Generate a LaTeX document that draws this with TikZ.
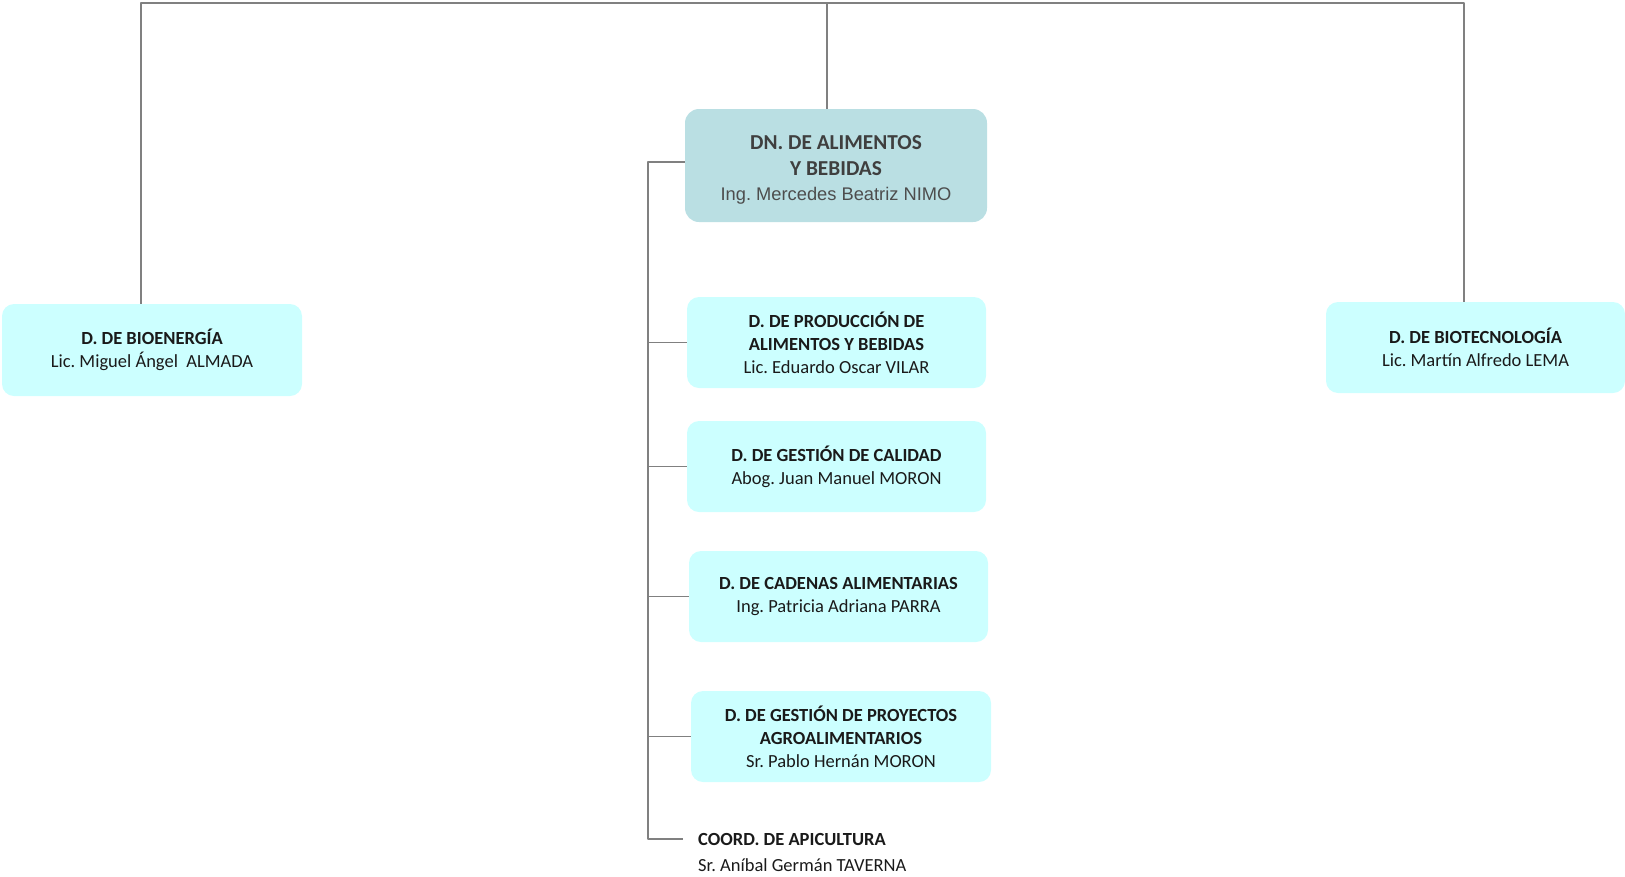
\documentclass[tikz,border=0pt]{standalone}
\usepackage{fontspec}
\setmainfont{Carlito}
\newfontfamily\arialfont{Liberation Sans}
\usetikzlibrary{positioning}
\definecolor{headfill}{HTML}{BADFE3}
\definecolor{boxfill}{HTML}{CCFFFF}
\definecolor{linegray}{HTML}{808080}
\definecolor{headtext}{HTML}{3F3F3F}
\definecolor{nametext}{HTML}{4D4D4D}
\definecolor{boxtext}{HTML}{1A1A1A}
\frenchspacing
\begin{document}
\begin{tikzpicture}[x=1pt,y=-1pt,line join=round,
	conn/.style={draw=linegray,line width=1.6pt},
	head/.style={fill=headfill,rounded corners=14pt,minimum width=302pt,minimum height=113pt,align=center,text=headtext,font=\fontsize{21.3}{25.5}\selectfont},
	unit/.style={fill=boxfill,rounded corners=12pt,minimum width=299pt,minimum height=91pt,align=center,text=boxtext,font=\fontsize{18.5}{22.8}\selectfont},
	plain/.style={anchor=west,inner xsep=15pt,inner ysep=0pt,text=boxtext,font=\fontsize{18.5}{22.8}\selectfont}]
	\useasboundingbox (0,0) rectangle (1625,876);
	\node[head] (dn) at (836,165.5) {\rule{0pt}{23pt}\textbf{DN. DE ALIMENTOS}\\ \textbf{Y BEBIDAS}\\ {\arialfont\fontsize{18.3}{22}\selectfont\color{nametext}Ing. Mercedes Beatriz NIMO}};
	\node[unit,minimum width=300pt,minimum height=92pt] (bio) at (152,350) {\textbf{D. DE BIOENERGÍA}\\ Lic. Miguel Ángel\ \ ALMADA};
	\node[unit] (biot) at (1475.5,347.5) {\textbf{D. DE BIOTECNOLOGÍA}\\ Lic. Martín Alfredo LEMA};
	\node[unit] (prod) at (836.5,342.5) {\textbf{D. DE PRODUCCIÓN DE}\\ \textbf{ALIMENTOS Y BEBIDAS}\\ Lic. Eduardo Oscar VILAR};
	\node[unit] (cal) at (836.5,466.5) {\textbf{D. DE GESTIÓN DE CALIDAD}\\ Abog. Juan Manuel MORON};
	\node[unit] (cad) at (838.5,596.5) {\textbf{D. DE CADENAS ALIMENTARIAS}\\ Ing. Patricia Adriana PARRA};
	\node[unit,minimum width=300pt] (proy) at (841,736.5) {\textbf{D. DE GESTIÓN DE PROYECTOS}\\ \textbf{AGROALIMENTARIOS}\\ Sr. Pablo Hernán MORON};
	\node[plain] (apic) at (683,839) {\textbf{COORD. DE APICULTURA}};
	\node[plain] (apicn) at (683,865) {Sr. Aníbal Germán TAVERNA};
	\draw[conn] ([xshift=-11pt]bio.north) -- ++(0,-301) coordinate (tl) -- (tl -| 1464,0) coordinate (tr) -- (tr |- biot.north);
	\draw[conn] ([xshift=-9pt]dn.north) -- ([xshift=-9pt]dn.north |- tl);
	\draw[conn] ([yshift=3.5pt]dn.west) -- ++(-37,0) coordinate (sp) -- (sp |- apic.west) -- (apic.west);
	\foreach \n in {prod,cal,cad,proy} \draw[conn] (\n.west) -- (\n.west -| sp);
\end{tikzpicture}
\end{document}
